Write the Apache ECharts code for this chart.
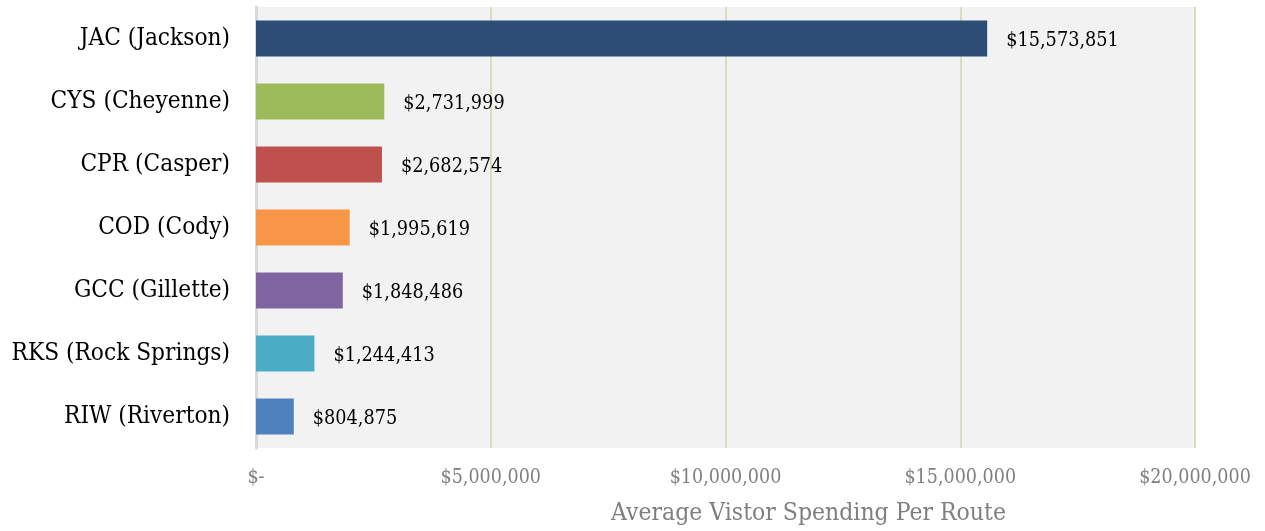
<!DOCTYPE html>
<html>
<head>
<meta charset="utf-8">
<style>
  html, body { margin: 0; padding: 0; background: #ffffff; }
  #chart { width: 1265px; height: 531px; }
</style>
<script src="https://cdn.jsdelivr.net/npm/echarts@6/dist/echarts.min.js"></script>
</head>
<body>
<div id="chart"></div>
<script>
// Airports, listed bottom to top as drawn on the category axis
const airports = [
  'RIW (Riverton)',
  'RKS (Rock Springs)',
  'GCC (Gillette)',
  'COD (Cody)',
  'CPR (Casper)',
  'CYS (Cheyenne)',
  'JAC (Jackson)'
];
const spending = [804875, 1244413, 1848486, 1995619, 2682574, 2731999, 15573851];
const barColors = ['#4f81bd', '#4bacc6', '#8064a2', '#f79646', '#c0504d', '#9bbb59', '#2c4d75'];
const axisTitle = 'Average Vistor Spending Per Route';

const FONT = '"DejaVu Serif Condensed", "DejaVu Serif", serif';

function money(v) {
  if (v === 0) return '$-';
  return '$' + v.toLocaleString('en-US');
}

const chart = echarts.init(document.getElementById('chart'), null, { renderer: 'canvas' });

chart.setOption({
  animation: false,
  backgroundColor: '#ffffff',
  grid: { left: 256, right: 70, top: 7, bottom: 83, containLabel: false,
          show: true, backgroundColor: '#f2f2f2', borderWidth: 0 },
  xAxis: {
    type: 'value',
    min: 0,
    max: 20000000,
    interval: 5000000,
    name: axisTitle,
    nameLocation: 'middle',
    nameGap: 53,
    nameTextStyle: { fontFamily: FONT, fontSize: 24.5, color: '#7f7f7f', padding: [0, 0, 0, 166] },
    axisLine: { show: false },
    axisTick: { show: false },
    axisLabel: { fontFamily: FONT, fontSize: 19.5, color: '#7f7f7f', margin: 20, formatter: money },
    splitLine: { show: true, lineStyle: { color: '#ddd9c3', width: 2 } }
  },
  yAxis: {
    type: 'category',
    data: airports,
    axisLine: { show: true, lineStyle: { color: '#d9d9d9', width: 3 } },
    axisTick: { show: false },
    axisLabel: { fontFamily: FONT, fontSize: 24.2, color: '#000000', margin: 26, padding: [4, 0, 0, 0] }
  },
  series: [{
    type: 'bar',
    data: spending.map((v, i) => ({ value: v, itemStyle: { color: barColors[i] } })),
    barCategoryGap: '43%',
    label: {
      show: true,
      position: 'right',
      distance: 19,
      offset: [0, 2],
      fontFamily: FONT,
      fontSize: 19.7,
      color: '#000000',
      formatter: p => money(p.value)
    }
  }]
});
</script>
</body>
</html>
